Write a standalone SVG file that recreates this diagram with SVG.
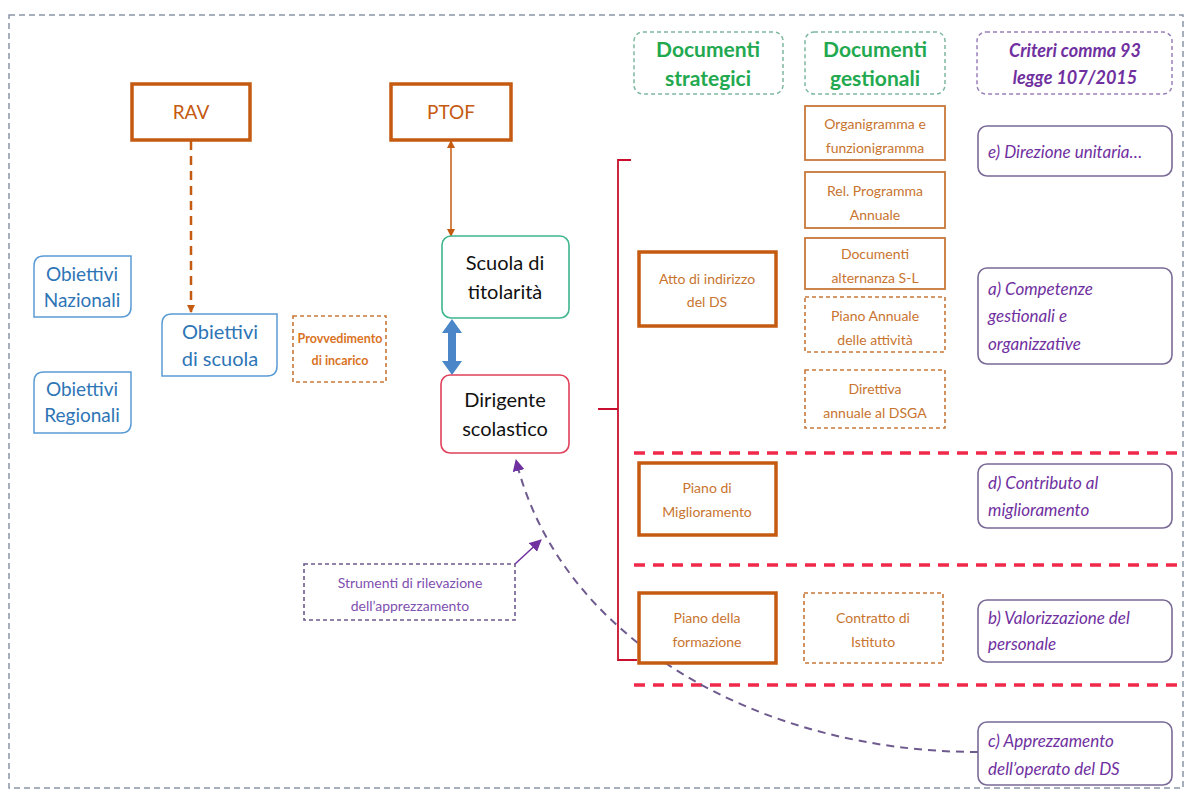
<svg xmlns="http://www.w3.org/2000/svg" width="1189" height="792" viewBox="0 0 1189 792">
<defs>
<style>
text{font-family:Lato,"Noto Sans","Liberation Sans",sans-serif;text-anchor:middle}
.frame{fill:none;stroke:#8a94a6;stroke-width:1.5;stroke-dasharray:6 4}
.thick{fill:#fff;stroke:#c55a11;stroke-width:3.5}
.thin{fill:#fff;stroke:#c8783a;stroke-width:1.8}
.dash{fill:#fff;stroke:#c8783a;stroke-width:1.6;stroke-dasharray:4 3}
.ot{fill:#c8742f;font-size:14px}
.ob{fill:#c55a11;font-size:19px}
.blue{fill:#fff;stroke:#5b9bd5;stroke-width:1.5}
.bt{fill:#2e75b6;font-size:19px}
.purp{fill:#fff;stroke:#7a6a96;stroke-width:1.6}
.pt{fill:#7030a0;font-size:17px;font-style:italic;text-anchor:start}
.hdr{fill:#fff;stroke:#8a9a9a;stroke-width:1.5;stroke-dasharray:4 3}
.gt{fill:#22a950;font-size:21px;font-weight:bold}
.redd{stroke:#f0284a;stroke-width:3.5;stroke-dasharray:11 8}
.bl{fill:#111;font-size:20px}
</style>
<marker id="ao" markerWidth="8" markerHeight="8" refX="7" refY="4" orient="auto-start-reverse" markerUnits="userSpaceOnUse"><path d="M0,0 L8,4 L0,8 Z" fill="#c55a11"/></marker>
<marker id="ap" markerWidth="12" markerHeight="12" refX="11" refY="6" orient="auto" markerUnits="userSpaceOnUse"><path d="M0,0 L12,6 L0,12 Z" fill="#7030a0"/></marker>
</defs>
<rect width="1189" height="792" fill="#fff"/>
<rect class="frame" x="9" y="15" width="1174" height="773"/>

<g id="connectors">
<line x1="191" y1="141" x2="191" y2="312" stroke="#c55a11" stroke-width="2.5" stroke-dasharray="9 6" marker-end="url(#ao)"/>
<line x1="451" y1="141" x2="451" y2="236" stroke="#c55a11" stroke-width="1.5" marker-start="url(#ao)" marker-end="url(#ao)"/>
<path d="M452,319 L462,333 L456,333 L456,361 L462,361 L452,375 L442,361 L448,361 L448,333 L442,333 Z" fill="#4a86c8"/>
<path d="M631,160 L618,160 L618,660 L637,660 M618,409 L598,409" fill="none" stroke="#c8102e" stroke-width="1.8"/>
<line class="redd" x1="634" y1="453" x2="1185" y2="453"/>
<line class="redd" x1="634" y1="565" x2="1185" y2="565"/>
<line class="redd" x1="634" y1="685" x2="1185" y2="685"/>
<path d="M978,752 C760,752 560,640 516,460" fill="none" stroke="#6e5a8e" stroke-width="2" stroke-dasharray="8 6" marker-end="url(#ap)"/>
<line x1="515" y1="564" x2="541" y2="540" stroke="#7030a0" stroke-width="1.5" marker-end="url(#ap)"/>
</g>

<g id="rav"><rect class="thick" x="132" y="84" width="118" height="56"/><text class="ob" x="191" y="119">RAV</text></g>
<g id="ptof"><rect class="thick" x="391" y="84" width="120" height="56"/><text class="ob" x="451" y="119">PTOF</text></g>

<g id="obiettivi-nazionali"><path class="blue" d="M44,256 H131 V307 Q131,317 121,317 H34 V266 Q34,256 44,256 Z"/><text class="bt" x="82" y="281">Obiettivi</text><text class="bt" x="82" y="307">Nazionali</text></g>
<g id="obiettivi-regionali"><path class="blue" d="M44,372 H131 V423 Q131,433 121,433 H34 V382 Q34,372 44,372 Z"/><text class="bt" x="82" y="396">Obiettivi</text><text class="bt" x="82" y="422">Regionali</text></g>
<g id="obiettivi-scuola"><path class="blue" d="M172,314 H277 V366 Q277,376 267,376 H162 V324 Q162,314 172,314 Z"/><text class="bt" x="220" y="339" style="font-size:20px">Obiettivi</text><text class="bt" x="220" y="366" style="font-size:20px">di scuola</text></g>
<g id="provvedimento"><rect class="dash" x="293" y="316" width="93" height="66"/><text x="340" y="343" style="fill:#d9731f;font-size:12.5px;font-weight:bold">Provvedimento</text><text x="340" y="365" style="fill:#d9731f;font-size:12.5px;font-weight:bold">di incarico</text></g>

<g id="scuola"><rect x="442" y="236" width="127" height="82" rx="9" fill="#fff" stroke="#3fb58f" stroke-width="1.6"/><text class="bl" x="505" y="270">Scuola di</text><text class="bl" x="505" y="299">titolarità</text></g>
<g id="dirigente"><rect x="441" y="375" width="128" height="78" rx="9" fill="#fff" stroke="#e0405a" stroke-width="1.6"/><text class="bl" x="505" y="407">Dirigente</text><text class="bl" x="505" y="436">scolastico</text></g>

<g id="strumenti"><rect x="304" y="564" width="211" height="56" fill="#fff" stroke="#6e5a8e" stroke-width="1.6" stroke-dasharray="4 3"/><text x="410" y="588" style="fill:#7f4fb0;font-size:14px">Strumenti di rilevazione</text><text x="410" y="611" style="fill:#7f4fb0;font-size:14px">dell’apprezzamento</text></g>

<g id="hdr-strategici"><rect class="hdr" x="634" y="32" width="149" height="62" rx="9" style="stroke:#7fb8a0"/><text class="gt" x="708" y="57">Documenti</text><text class="gt" x="708" y="86">strategici</text></g>
<g id="hdr-gestionali"><rect class="hdr" x="805" y="32" width="140" height="62" rx="9" style="stroke:#7fb8a0"/><text class="gt" x="875" y="57">Documenti</text><text class="gt" x="875" y="86">gestionali</text></g>
<g id="hdr-criteri"><rect class="hdr" x="977" y="32" width="195" height="62" rx="9" style="stroke:#9a80b8"/><text x="1075" y="57" style="fill:#7030a0;font-size:18px;font-weight:bold;font-style:italic">Criteri comma 93</text><text x="1075" y="84" style="fill:#7030a0;font-size:18px;font-weight:bold;font-style:italic">legge 107/2015</text></g>

<g id="organigramma"><rect class="thin" x="805" y="106" width="140" height="54"/><text class="ot" x="875" y="129">Organigramma e</text><text class="ot" x="875" y="153">funzionigramma</text></g>
<g id="rel-programma"><rect class="thin" x="805" y="172" width="140" height="56"/><text class="ot" x="875" y="196">Rel. Programma</text><text class="ot" x="875" y="220">Annuale</text></g>
<g id="alternanza"><rect class="thin" x="805" y="238" width="140" height="51"/><text class="ot" x="875" y="259">Documenti</text><text class="ot" x="875" y="283">alternanza S-L</text></g>
<g id="piano-annuale"><rect class="dash" x="805" y="297" width="140" height="55"/><text class="ot" x="875" y="321">Piano Annuale</text><text class="ot" x="875" y="345">delle attività</text></g>
<g id="direttiva"><rect class="dash" x="805" y="370" width="140" height="58"/><text class="ot" x="875" y="394">Direttiva</text><text class="ot" x="875" y="418">annuale al DSGA</text></g>

<g id="atto"><rect class="thick" x="639" y="252" width="137" height="74"/><text class="ot" x="707" y="284">Atto di indirizzo</text><text class="ot" x="707" y="307">del DS</text></g>
<g id="piano-miglioramento"><rect class="thick" x="639" y="463" width="137" height="72"/><text class="ot" x="707" y="493">Piano di</text><text class="ot" x="707" y="517">Miglioramento</text></g>
<g id="piano-formazione"><rect class="thick" x="639" y="593" width="137" height="70"/><text class="ot" x="707" y="623">Piano della</text><text class="ot" x="707" y="647">formazione</text></g>
<g id="contratto"><rect class="dash" x="804" y="593" width="139" height="70"/><text class="ot" x="873" y="623">Contratto di</text><text class="ot" x="873" y="647">Istituto</text></g>

<g id="crit-e"><rect class="purp" x="978" y="126" width="194" height="50" rx="9"/><text class="pt" x="988" y="158">e) Direzione unitaria…</text></g>
<g id="crit-a"><rect class="purp" x="978" y="268" width="194" height="96" rx="9"/><text class="pt" x="988" y="295">a) Competenze</text><text class="pt" x="988" y="322">gestionali e</text><text class="pt" x="988" y="350">organizzative</text></g>
<g id="crit-d"><rect class="purp" x="978" y="464" width="194" height="64" rx="9"/><text class="pt" x="988" y="489">d) Contributo al</text><text class="pt" x="988" y="516">miglioramento</text></g>
<g id="crit-b"><rect class="purp" x="978" y="600" width="194" height="62" rx="9"/><text class="pt" x="988" y="624">b) Valorizzazione del</text><text class="pt" x="988" y="650">personale</text></g>
<g id="crit-c"><rect class="purp" x="978" y="722" width="194" height="63" rx="9"/><text class="pt" x="988" y="747">c) Apprezzamento</text><text class="pt" x="988" y="775">dell’operato del DS</text></g>
</svg>
